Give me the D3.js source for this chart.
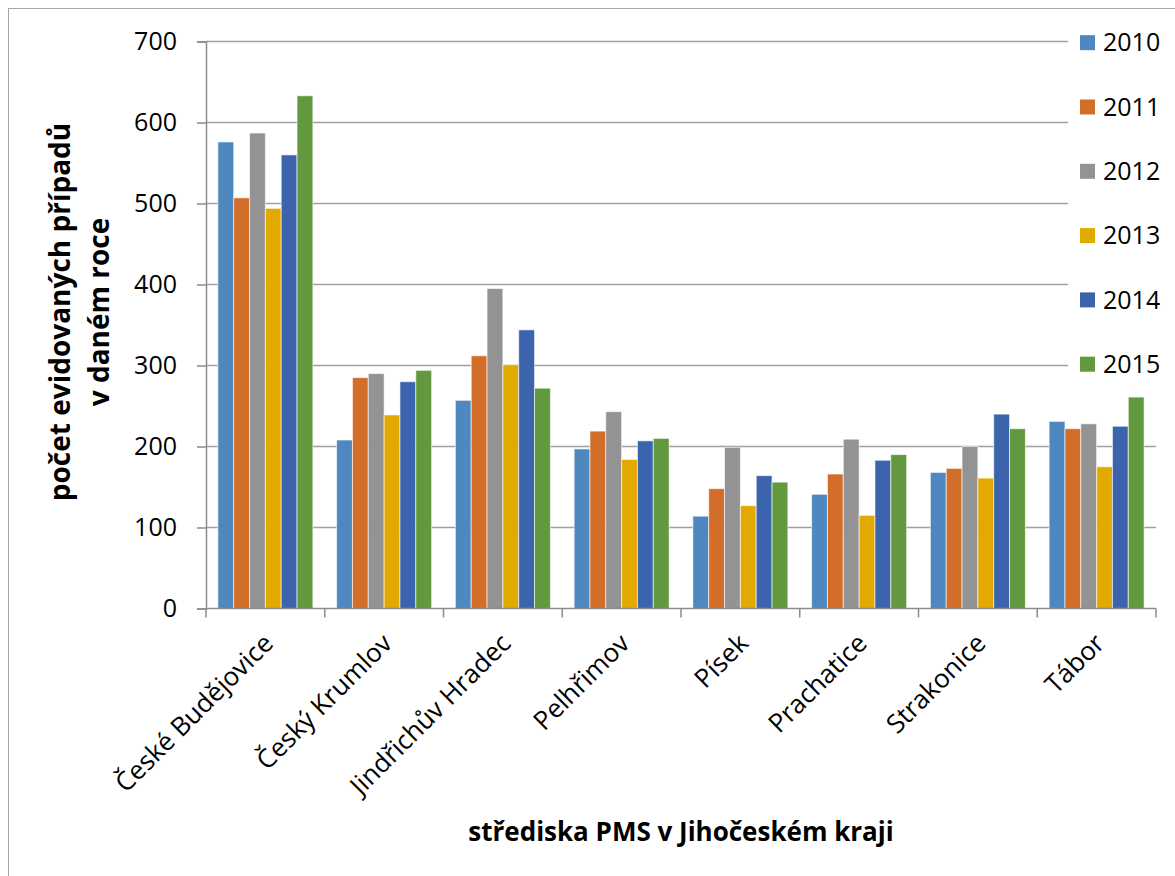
<!DOCTYPE html>
<html>
<head>
<meta charset="utf-8">
<script src="https://cdn.jsdelivr.net/npm/d3@7"></script>
<style>
  body { margin: 0; background: #fff; }
  text { font-family: "Open Sans", sans-serif; fill: #000; }
</style>
</head>
<body>
<script>
// strediska PMS - pocet pripadu po letech
const categories = ["České Budějovice", "Český Krumlov", "Jindřichův Hradec", "Pelhřimov",
                    "Písek", "Prachatice", "Strakonice", "Tábor"];
const years = ["2010", "2011", "2012", "2013", "2014", "2015"];
const v2010 = [576, 208, 257, 197, 114, 141, 168, 231];
const v2011 = [507, 285, 312, 219, 148, 166, 173, 222];
const v2012 = [587, 290, 395, 243, 199, 209, 200, 228];
const v2013 = [494, 239, 301, 184, 127, 115, 161, 175];
const v2014 = [560, 280, 344, 207, 164, 183, 240, 225];
const v2015 = [633, 294, 272, 210, 156, 190, 222, 261];
const yTicks = [0, 100, 200, 300, 400, 500, 600, 700];
const colors = ["#4f88be", "#d36e2a", "#939393", "#e2aa00", "#3c64ad", "#62983e"];

var series = [v2010, v2011, v2012, v2013, v2014, v2015];

var W = 1175, H = 876;
// note: "top" is taken by window.top, so prefixed names
var pLeft = 206, pRight = 1156, pTop = 41.5, pBottom = 608.5;

var svg = d3.select("body").append("svg")
    .attr("width", W)
    .attr("height", H);

// chart frame
svg.append("rect")
    .attr("x", 8.5).attr("y", 8.5)
    .attr("width", W).attr("height", H)
    .attr("fill", "none")
    .attr("stroke", "#a6a6a6");

var x = d3.scaleBand()
    .domain(categories)
    .range([pLeft, pRight])
    .paddingInner(0.2)
    .paddingOuter(0.1);
var xs = d3.scaleBand()
    .domain(years)
    .range([0, x.bandwidth()]);
var y = d3.scaleLinear()
    .domain([0, 700])
    .range([pBottom, pTop]);

// gridlines
svg.append("g").selectAll("line")
  .data(yTicks.slice(1))
  .enter().append("line")
    .attr("x1", pLeft).attr("x2", pRight)
    .attr("y1", d => y(d)).attr("y2", d => y(d))
    .attr("stroke", "#a0a0a0")
    .attr("stroke-width", 1.5);

// bars
svg.append("g").selectAll("g")
  .data(series)
  .enter().append("g")
    .attr("fill", (d, i) => colors[i])
    .each(function (vals, i) {
      d3.select(this).selectAll("rect")
        .data(vals)
        .enter().append("rect")
          .attr("x", (d, j) => x(categories[j]) + xs(years[i]))
          .attr("y", d => y(d))
          .attr("width", xs.bandwidth())
          .attr("height", d => y(0) - y(d))
          .attr("stroke", "rgba(255,255,255,0.6)")
          .attr("stroke-width", 1);
    });

// y axis
var yAxis = svg.append("g")
    .attr("transform", "translate(" + pLeft + ",0)")
    .call(d3.axisLeft(y).tickValues(yTicks).tickSize(9).tickPadding(20));
yAxis.select(".domain").attr("stroke", "#8c8c8c").attr("stroke-width", 1.5);
yAxis.selectAll(".tick line").attr("stroke", "#8c8c8c").attr("stroke-width", 1.5);
yAxis.selectAll("text")
    .style("font-family", "'Open Sans', sans-serif")
    .style("font-size", "25px")
    .attr("fill", "#000");

// x axis: ticks between categories
var bounds = d3.range(categories.length + 1).map(i => pLeft + i * (pRight - pLeft) / categories.length);
svg.append("line")
    .attr("x1", pLeft).attr("x2", pRight)
    .attr("y1", pBottom).attr("y2", pBottom)
    .attr("stroke", "#8c8c8c").attr("stroke-width", 1.5);
svg.append("g").selectAll("line")
  .data(bounds)
  .enter().append("line")
    .attr("x1", d => d).attr("x2", d => d)
    .attr("y1", pBottom).attr("y2", pBottom + 9)
    .attr("stroke", "#8c8c8c").attr("stroke-width", 1.5);

svg.append("g").selectAll("text")
  .data(categories)
  .enter().append("text")
    .attr("transform", d => "translate(" + (x(d) + x.bandwidth() / 2 + 3) + "," + (pBottom + 30) + ") rotate(-45)")
    .attr("text-anchor", "end")
    .attr("dy", "0.35em")
    .style("font-size", "26px")
    .text(d => d);

// axis titles
var yt = svg.append("text")
    .attr("transform", "translate(60,312) rotate(-90)")
    .attr("text-anchor", "middle")
    .style("font-size", "28px")
    .style("font-weight", "bold");
yt.append("tspan").attr("x", 0).attr("dy", "0.35em").text("počet evidovaných případů");
yt.append("tspan").attr("x", 0).attr("dy", "1.4em").text("v daném roce");

svg.append("text")
    .attr("x", (pLeft + pRight) / 2)
    .attr("y", 832)
    .attr("dy", "0.35em")
    .attr("text-anchor", "middle")
    .style("font-size", "26px")
    .style("font-weight", "bold")
    .text("střediska PMS v Jihočeském kraji");

// legend (covers the grid on the right)
var lg = svg.append("g");
lg.append("rect")
    .attr("x", 1068).attr("y", 18)
    .attr("width", 110).attr("height", 372)
    .attr("fill", "#fff");
var item = lg.selectAll("g.item")
  .data(years)
  .enter().append("g")
    .attr("class", "item")
    .attr("transform", (d, i) => "translate(1080," + (42.7 + i * 64.3) + ")");
item.append("rect")
    .attr("x", 0).attr("y", -7.5)
    .attr("width", 15).attr("height", 15)
    .attr("fill", (d, i) => colors[i]);
item.append("text")
    .attr("x", 23)
    .attr("dy", "0.35em")
    .style("font-size", "25px")
    .text(d => d);
</script>
</body>
</html>
